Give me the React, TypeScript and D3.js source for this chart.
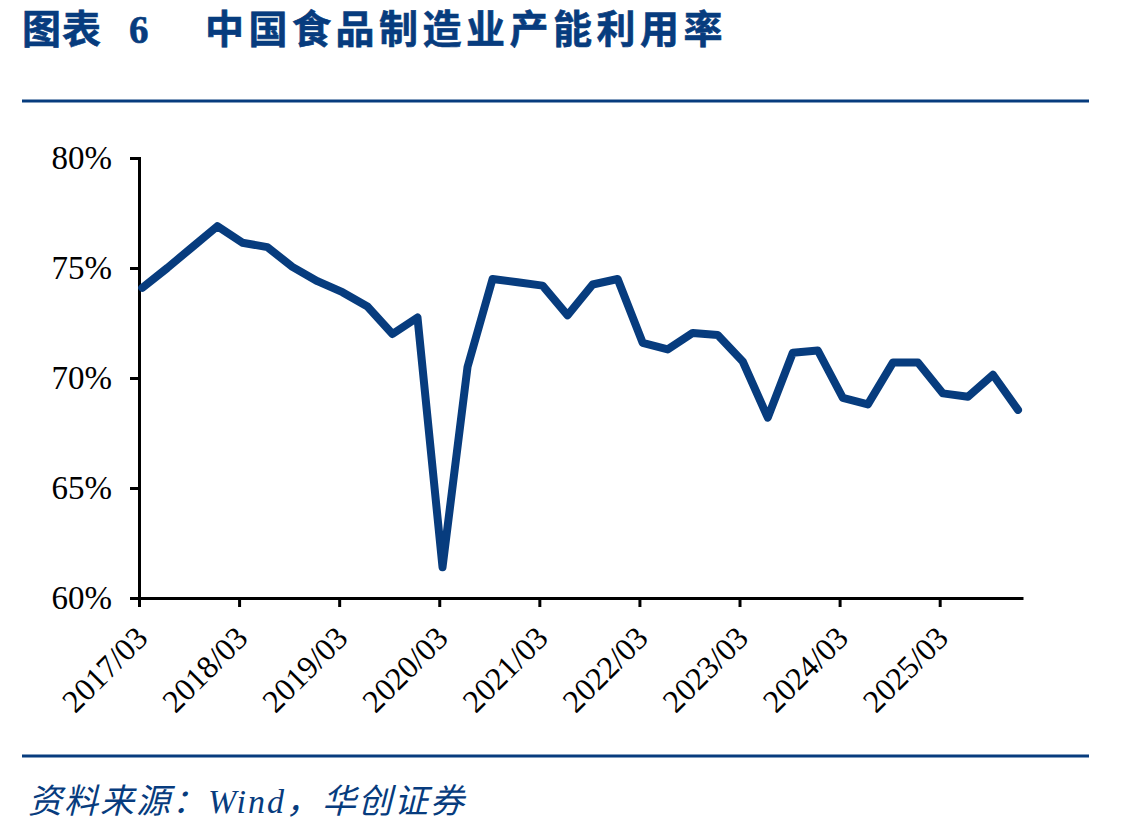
import React, { useEffect, useRef } from "react";
import * as d3 from "d3";

// quarterly observations, 2017/03 .. 2025/12
const quarters = [
  "2017/03", "2017/06", "2017/09", "2017/12",
  "2018/03", "2018/06", "2018/09", "2018/12",
  "2019/03", "2019/06", "2019/09", "2019/12",
  "2020/03", "2020/06", "2020/09", "2020/12",
  "2021/03", "2021/06", "2021/09", "2021/12",
  "2022/03", "2022/06", "2022/09", "2022/12",
  "2023/03", "2023/06", "2023/09", "2023/12",
  "2024/03", "2024/06", "2024/09", "2024/12",
  "2025/03", "2025/06", "2025/09", "2025/12",
];

const utilization = [
  74.1, 75.0, 75.95, 76.9,
  76.15, 75.95, 75.05, 74.4,
  73.9, 73.25, 72.0, 72.75,
  61.4, 70.5, 74.5, 74.35,
  74.2, 72.85, 74.25, 74.5,
  71.6, 71.3, 72.05, 71.95,
  70.75, 68.2, 71.15, 71.25,
  69.1, 68.8, 70.7, 70.7,
  69.3, 69.15, 70.15, 68.55,
];

const yTicks = [60, 65, 70, 75, 80];
const xTickLabels = [
  "2017/03", "2018/03", "2019/03", "2020/03", "2021/03",
  "2022/03", "2023/03", "2024/03", "2025/03",
];

const BLUE = "#073c7e";

const App = () => {
  const svgRef = useRef<SVGSVGElement | null>(null);

  useEffect(() => {
    const width = 1128;
    const height = 833;
    const margin = { top: 158, right: 105, bottom: 235, left: 139 };

    const svg = d3
      .select(svgRef.current)
      .attr("width", width)
      .attr("height", height);

    svg.selectAll("*").remove();

    svg
      .append("rect")
      .attr("width", width)
      .attr("height", height)
      .attr("fill", "white");

    const xScale = d3
      .scaleLinear()
      .domain([-0.13, quarters.length - 0.8])
      .range([margin.left, width - margin.right]);

    const yScale = d3
      .scaleLinear()
      .domain([60, 80])
      .range([height - margin.bottom, margin.top]);

    // title
    const title = svg
      .append("text")
      .attr("y", 43)
      .attr("fill", BLUE)
      .attr("font-weight", "bold")
      .attr("font-size", 39)
      .attr("stroke", BLUE)
      .attr("stroke-width", 0.6)
      .attr("font-family", "'Liberation Serif', 'Noto Sans CJK SC', serif");
    title.append("tspan").attr("x", 22).attr("letter-spacing", 1).text("图表");
    title.append("tspan").attr("x", 129).text("6");
    title
      .append("tspan")
      .attr("x", 205)
      .attr("letter-spacing", 4.5)
      .text("中国食品制造业产能利用率");

    svg
      .append("line")
      .attr("x1", 22)
      .attr("x2", 1089)
      .attr("y1", 101)
      .attr("y2", 101)
      .attr("stroke", BLUE)
      .attr("stroke-width", 3);

    svg
      .append("line")
      .attr("x1", 22)
      .attr("x2", 1089)
      .attr("y1", 756)
      .attr("y2", 756)
      .attr("stroke", BLUE)
      .attr("stroke-width", 3);

    // y axis
    const yAxis = svg
      .append("g")
      .attr("transform", `translate(${margin.left},0)`)
      .call(
        d3
          .axisLeft(yScale)
          .tickValues(yTicks)
          .tickSize(9)
          .tickPadding(18)
          .tickFormat((d) => `${d}%`)
      );
    yAxis.select(".domain").attr("stroke", "black").attr("stroke-width", 3);
    yAxis.selectAll(".tick line").attr("stroke", "black").attr("stroke-width", 3);
    yAxis
      .selectAll(".tick text")
      .attr("fill", "black")
      .attr("font-size", 33)
      .attr("font-family", "'Liberation Serif', serif");

    // x axis
    const tickIdx = xTickLabels.map((l) => quarters.indexOf(l) - 0.13);
    const xAxis = svg
      .append("g")
      .attr("transform", `translate(0,${height - margin.bottom})`)
      .call(
        d3
          .axisBottom(xScale)
          .tickValues(tickIdx)
          .tickSize(9)
          .tickSizeOuter(0)
          .tickFormat((d, i) => xTickLabels[i])
      );
    xAxis.select(".domain").attr("stroke", "black").attr("stroke-width", 3);
    xAxis.selectAll(".tick line").attr("stroke", "black").attr("stroke-width", 3);
    xAxis
      .selectAll(".tick text")
      .attr("fill", "black")
      .attr("font-size", 32)
      .attr("font-family", "'Liberation Serif', serif")
      .attr("text-anchor", "end")
      .attr("dy", null)
      .attr("y", null)
      .attr("transform", "translate(10,42) rotate(-45)");

    // line
    const line = d3
      .line<number>()
      .x((d, i) => xScale(i))
      .y((d) => yScale(d))
      .curve(d3.curveLinear);

    svg
      .append("path")
      .datum(utilization)
      .attr("d", line)
      .attr("fill", "none")
      .attr("stroke", BLUE)
      .attr("stroke-width", 8)
      .attr("stroke-linejoin", "round")
      .attr("stroke-linecap", "round");

    // source
    svg
      .append("text")
      .attr("x", 28)
      .attr("y", 813)
      .attr("fill", BLUE)
      .attr("font-style", "italic")
      .attr("font-size", 34)
      .attr("letter-spacing", 2)
      .attr("font-family", "'Liberation Serif', 'Noto Sans CJK SC', serif")
      .text("资料来源：Wind，华创证券");
  }, []);

  return (
    <svg
      ref={svgRef}
      style={{ position: "absolute", left: 0, top: 0, display: "block" }}
    ></svg>
  );
};

export default App;
